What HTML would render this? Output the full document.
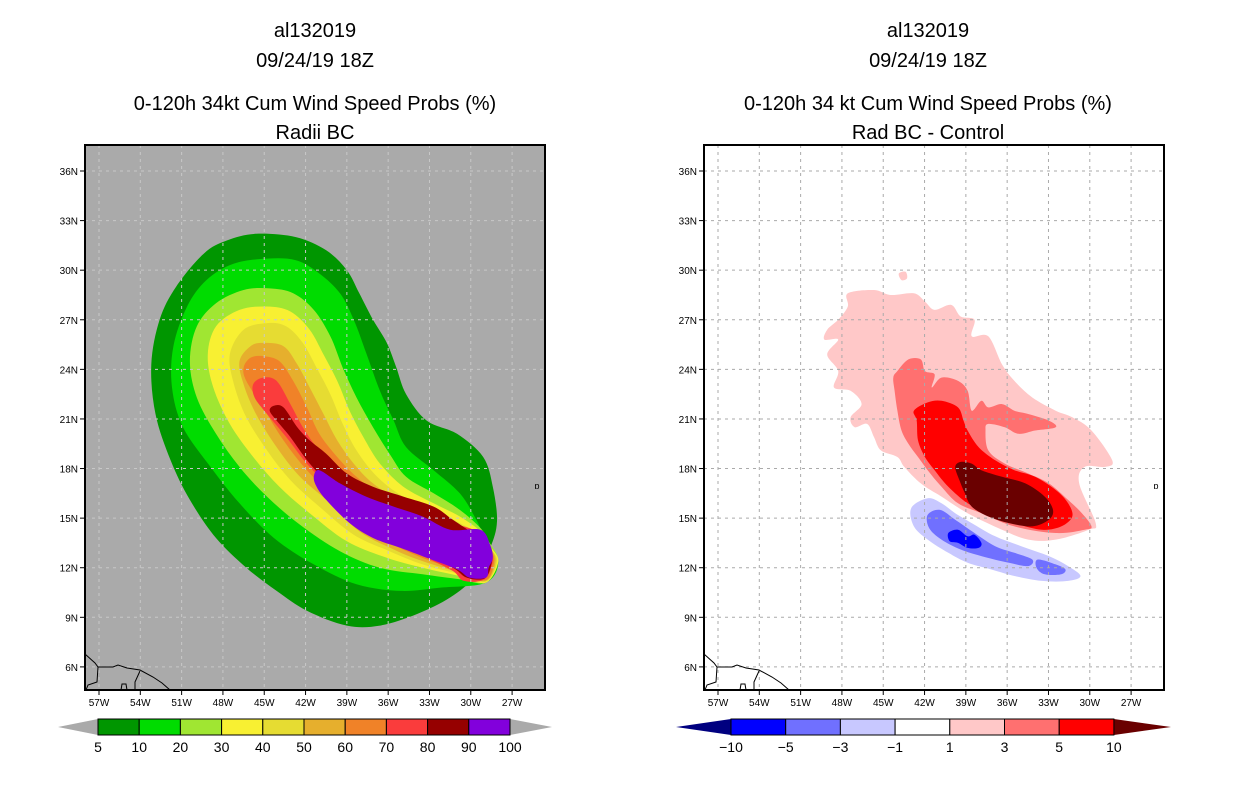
<!DOCTYPE html>
<html><head><meta charset="utf-8"><style>
html,body{margin:0;padding:0;background:#fff;}
svg text{font-family:"Liberation Sans",sans-serif;fill:#000;}
</style></head><body>
<svg id="chart" width="1236" height="800" viewBox="0 0 1236 800" xmlns="http://www.w3.org/2000/svg">
<g font-size="20" text-anchor="middle">
<text x="315" y="37">al132019</text><text x="315" y="67">09/24/19 18Z</text>
<text x="315" y="110">0-120h 34kt Cum Wind Speed Probs (%)</text><text x="315" y="139">Radii BC</text></g>
<g font-size="20" text-anchor="middle">
<text x="928" y="37">al132019</text><text x="928" y="67">09/24/19 18Z</text>
<text x="928" y="110">0-120h 34 kt Cum Wind Speed Probs (%)</text><text x="928" y="139">Rad BC - Control</text></g>
<rect x="85" y="145" width="460" height="545" fill="#aaaaaa"/>
<rect x="704" y="145" width="460" height="545" fill="#ffffff"/>
<g id="lfill"></g><g id="rfill"></g><g id="grids"></g><g id="coast"></g><g id="axes"></g><g id="cbars"></g>
</svg>
<script>
const lonTicks=[-57,-54,-51,-48,-45,-42,-39,-36,-33,-30,-27];
const latTicks=[36,33,30,27,24,21,18,15,12,9,6];
const leftLevels=[5,10,20,30,40,50,60,70,80,90,100];
const leftColors=["#009600","#00dc00","#a0e632","#f8f032","#e6dc32","#e6af2d","#f08228","#fa3c3c","#960000","#8200dc"];
const diffLevels=[-10,-5,-3,-1,1,3,5,10];
const diffColors=["#0000ff","#7070ff","#c8c8ff","#ffffff","#ffc8c8","#ff7070","#ff0000"];
// contours as [lon,lat]
const c5=[[-45.6,32.2],[-42.7,32.0],[-40.5,31.2],[-39.0,30.0],[-38.1,28.6],[-37.1,27.0],[-36.1,25.6],[-35.4,24.1],[-34.7,22.5],[-33.2,20.9],[-31.0,20.1],[-29.1,18.7],[-28.4,16.9],[-28.1,14.8],[-28.6,13.2],[-29.8,11.4],[-31.5,10.2],[-33.9,9.2],[-36.6,8.5],[-39.0,8.5],[-41.9,9.4],[-44.1,10.6],[-46.3,12.0],[-48.5,13.8],[-50.4,16.1],[-51.8,18.5],[-52.9,21.3],[-53.2,24.3],[-52.6,27.0],[-51.4,29.0],[-49.4,31.0],[-47.7,31.8]];
const c10=[[-44.8,30.7],[-42.7,30.6],[-41.0,29.8],[-39.5,28.6],[-38.5,27.0],[-37.6,25.0],[-36.6,22.7],[-35.6,20.9],[-34.7,19.3],[-32.7,17.9],[-30.8,16.5],[-29.6,14.9],[-28.9,13.6],[-28.0,12.4],[-28.9,11.1],[-32.2,10.8],[-35.1,10.6],[-38.3,11.0],[-41.4,12.2],[-44.3,13.8],[-46.8,15.9],[-48.9,18.1],[-50.9,20.5],[-51.7,22.9],[-51.6,25.4],[-50.6,27.8],[-49.2,29.4],[-47.2,30.4]];
const c20=[[-44.6,28.9],[-42.9,28.6],[-41.4,27.6],[-40.2,26.0],[-39.3,24.1],[-38.3,22.3],[-37.1,20.5],[-35.9,18.9],[-34.7,17.5],[-32.7,16.5],[-30.8,15.5],[-29.3,14.4],[-28.7,13.6],[-28.0,12.4],[-28.9,11.1],[-30.8,11.3],[-33.5,11.6],[-36.6,12.0],[-39.5,13.0],[-42.4,14.6],[-44.8,16.3],[-46.8,18.1],[-48.5,20.1],[-49.9,22.3],[-50.4,24.5],[-49.9,26.6],[-48.5,28.0],[-46.5,28.8]];
const c30=[[-44.8,27.8],[-43.1,27.5],[-41.7,26.4],[-40.7,24.9],[-39.7,23.3],[-38.8,21.5],[-37.8,19.9],[-36.6,18.3],[-34.9,16.9],[-32.7,15.9],[-30.8,15.1],[-29.3,14.2],[-28.6,13.3],[-28.0,12.4],[-28.9,11.1],[-30.8,11.5],[-33.5,12.0],[-36.1,12.6],[-39.0,13.6],[-41.7,15.3],[-43.9,16.9],[-45.8,18.7],[-47.5,20.7],[-48.7,22.9],[-49.1,24.9],[-48.5,26.6],[-46.8,27.6]];
const c40=[[-44.8,26.8],[-43.4,26.6],[-42.2,25.6],[-41.2,24.1],[-40.2,22.5],[-39.3,20.7],[-38.3,19.1],[-36.8,17.5],[-34.9,16.3],[-32.7,15.5],[-30.8,14.7],[-29.3,14.0],[-28.6,13.2],[-28.1,12.4],[-28.9,11.15],[-30.8,11.6],[-33.5,12.2],[-35.9,13.0],[-38.5,14.0],[-41.0,15.7],[-43.1,17.3],[-44.8,19.1],[-46.3,21.1],[-47.2,23.1],[-47.5,24.9],[-46.5,26.4]];
const c50=[[-45.1,25.6],[-43.6,25.4],[-42.6,24.3],[-41.7,22.9],[-40.7,21.3],[-39.7,19.7],[-38.5,18.3],[-37.1,17.1],[-34.9,15.9],[-32.7,15.2],[-30.8,14.5],[-29.3,13.9],[-28.6,13.2],[-28.2,12.4],[-28.9,11.2],[-30.8,11.7],[-33.5,12.4],[-35.6,13.1],[-38.1,14.2],[-40.2,15.9],[-42.4,17.5],[-44.1,19.3],[-45.6,21.3],[-46.5,23.1],[-46.8,24.5],[-46.0,25.4]];
const c60=[[-45.1,24.8],[-43.9,24.5],[-42.9,23.3],[-41.9,21.7],[-41.0,20.1],[-39.7,18.7],[-38.3,17.5],[-36.4,16.3],[-34.2,15.4],[-32.2,14.7],[-30.3,14.3],[-29.3,13.8],[-28.6,13.1],[-28.3,12.4],[-28.9,11.25],[-30.8,11.8],[-33.2,12.5],[-35.4,13.3],[-37.6,14.4],[-39.7,16.1],[-41.9,17.9],[-43.6,19.7],[-45.1,21.7],[-46.3,23.3],[-46.5,24.1],[-46.0,24.7]];
const c70=[[-45.1,23.5],[-44.1,23.3],[-43.1,21.9],[-42.2,20.5],[-41.2,19.3],[-40.0,18.3],[-38.5,17.3],[-36.6,16.3],[-34.4,15.5],[-32.2,14.9],[-29.8,14.3],[-29.3,13.9],[-28.7,13.1],[-28.4,12.4],[-29.0,11.3],[-30.5,11.2],[-31.3,11.8],[-33.2,12.6],[-35.4,13.5],[-37.6,14.7],[-39.5,16.3],[-41.7,18.1],[-43.4,19.9],[-44.8,21.3],[-45.7,22.3],[-45.8,23.1]];
const c80=[[-44.3,21.8],[-43.6,21.7],[-42.6,20.5],[-41.7,19.7],[-40.5,18.9],[-39.0,17.7],[-37.1,16.9],[-34.9,16.3],[-32.7,15.7],[-31.3,14.9],[-29.8,14.1],[-28.9,13.9],[-28.5,12.9],[-28.5,12.2],[-29.0,11.35],[-30.3,11.4],[-31.3,12.0],[-33.5,12.8],[-35.6,13.6],[-37.8,14.8],[-39.7,16.5],[-41.7,18.3],[-43.1,19.9],[-44.1,20.9],[-44.6,21.5]];
const c90=[[-41.4,17.5],[-41.0,17.9],[-39.5,17.1],[-37.6,16.3],[-35.6,15.7],[-33.5,15.1],[-31.5,14.3],[-29.3,14.3],[-28.6,13.4],[-28.4,12.6],[-28.7,12.0],[-28.9,11.4],[-30.1,11.4],[-31.0,11.9],[-33.2,12.6],[-35.1,13.2],[-37.1,13.8],[-38.8,14.7],[-40.5,16.1],[-41.2,16.9]];
const leftContours=[c5,c10,c20,c30,c40,c50,c60,c70,c80,c90];
const d1=[[-47.5,28.6],[-45.6,28.8],[-44.4,28.5],[-42.7,28.6],[-41.9,28.1],[-41.2,27.6],[-40.0,27.9],[-39.3,27.2],[-38.3,27.0],[-38.5,26.0],[-37.3,26.0],[-36.3,24.3],[-35.4,23.3],[-34.1,22.3],[-32.4,21.5],[-31.2,21.1],[-29.8,20.3],[-28.3,18.5],[-28.8,18.1],[-30.3,18.1],[-30.7,17.1],[-29.5,14.7],[-30.0,14.3],[-32.4,13.7],[-34.4,13.7],[-36.3,14.3],[-38.8,15.3],[-40.7,16.3],[-42.2,17.1],[-43.4,18.1],[-43.9,18.7],[-45.1,19.1],[-45.6,19.9],[-46.1,20.7],[-47.0,20.5],[-47.3,21.1],[-46.5,21.9],[-47.3,22.7],[-48.5,22.9],[-48.2,23.9],[-49.0,24.9],[-48.2,25.8],[-49.2,25.8],[-49.0,26.4],[-48.2,27.0],[-47.5,27.8]];
const d1b=[[-43.8,29.8],[-43.3,29.9],[-43.2,29.5],[-43.6,29.4]];
const d3=[[-43.1,24.6],[-42.2,24.6],[-41.9,23.9],[-41.2,23.7],[-41.4,22.9],[-40.7,23.5],[-39.5,23.3],[-38.8,22.7],[-38.5,21.5],[-37.8,22.1],[-37.3,21.7],[-36.3,21.9],[-35.4,21.5],[-34.4,21.3],[-32.9,20.9],[-32.4,20.5],[-33.9,20.3],[-35.1,20.1],[-36.1,20.5],[-37.3,20.7],[-37.5,20.3],[-37.3,19.1],[-36.1,18.3],[-34.4,17.7],[-32.9,17.1],[-31.5,16.1],[-30.5,15.3],[-29.8,14.5],[-30.3,14.3],[-32.4,14.1],[-35.4,14.5],[-37.8,15.3],[-39.5,15.9],[-40.7,16.9],[-41.7,17.9],[-42.4,18.7],[-43.1,19.5],[-43.6,20.3],[-43.9,21.5],[-44.1,22.7],[-44.2,23.5],[-43.9,23.9]];
const d5=[[-42.7,21.5],[-41.7,22.0],[-40.7,22.1],[-39.5,21.7],[-39.1,20.9],[-38.8,20.3],[-38.0,19.3],[-36.8,18.5],[-35.4,17.9],[-33.9,17.5],[-32.4,16.7],[-31.5,15.9],[-31.2,15.1],[-32.0,14.5],[-33.4,14.3],[-35.4,14.7],[-37.3,15.3],[-38.8,15.9],[-40.2,16.9],[-41.2,17.9],[-41.9,18.7],[-42.4,19.7],[-42.5,20.9]];
const d10=[[-39.7,18.1],[-39.3,18.4],[-38.5,18.3],[-37.8,17.9],[-36.3,17.5],[-34.6,17.1],[-33.2,16.3],[-32.6,15.5],[-32.9,14.9],[-34.1,14.5],[-35.8,14.7],[-37.3,15.1],[-38.5,15.7],[-39.0,16.5],[-39.4,17.3]];
const dm1=[[-42.9,15.6],[-41.7,16.2],[-40.7,15.9],[-39.7,15.3],[-38.5,14.7],[-36.8,13.9],[-34.9,13.3],[-32.9,12.7],[-31.5,12.1],[-30.6,11.5],[-31.5,11.2],[-33.4,11.2],[-35.4,11.5],[-37.1,11.9],[-38.8,12.3],[-40.2,12.9],[-41.7,13.7],[-42.7,14.5]];
const dm3=[[-41.7,15.2],[-40.8,15.5],[-39.7,14.9],[-38.3,14.1],[-36.8,13.3],[-35.4,12.9],[-34.1,12.5],[-34.4,12.1],[-35.8,12.3],[-37.8,12.7],[-39.3,13.1],[-40.7,13.7],[-41.6,14.4]];
const dm3b=[[-33.7,12.5],[-32.4,12.2],[-31.7,11.9],[-32.0,11.6],[-33.2,11.6],[-33.8,12.0]];
const dm5=[[-40.2,14.1],[-39.5,14.3],[-38.8,13.9],[-38.3,14.0],[-37.8,13.5],[-38.0,13.2],[-38.8,13.2],[-39.5,13.5],[-40.1,13.6]];
const diffContours=[[d1,"#ffc8c8"],[d1b,"#ffc8c8"],[d3,"#ff7070"],[d5,"#ff0000"],[d10,"#6a0000"],[dm1,"#c8c8ff"],[dm3,"#7070ff"],[dm3b,"#7070ff"],[dm5,"#0000ff"]];

const NS="http://www.w3.org/2000/svg";
const PX=13.77, PY=16.53;
function xL(lon){return 99+(lon+57)*PX;}
function yL(lat){return 171+(36-lat)*PY;}
function xR(lon){return xL(lon)+618;}
function mk(tag,attrs,parent){const e=document.createElementNS(NS,tag);for(const k in attrs)e.setAttribute(k,attrs[k]);parent.appendChild(e);return e;}
function smooth(pts){const n=pts.length;let d="M"+pts[0][0].toFixed(1)+","+pts[0][1].toFixed(1);
 for(let i=0;i<n;i++){const p0=pts[(i-1+n)%n],p1=pts[i],p2=pts[(i+1)%n],p3=pts[(i+2)%n];
  const c1=[p1[0]+(p2[0]-p0[0])/6,p1[1]+(p2[1]-p0[1])/6],c2=[p2[0]-(p3[0]-p1[0])/6,p2[1]-(p3[1]-p1[1])/6];
  d+="C"+c1[0].toFixed(1)+","+c1[1].toFixed(1)+" "+c2[0].toFixed(1)+","+c2[1].toFixed(1)+" "+p2[0].toFixed(1)+","+p2[1].toFixed(1);}
 return d+"Z";}
const lf=document.getElementById('lfill');
leftContours.forEach((c,i)=>{
 const p=mk('path',{d:smooth(c.map(q=>[xL(q[0]),yL(q[1])])),fill:leftColors[i]},lf);
 
 
});
const rf=document.getElementById('rfill');
diffContours.forEach((c,i)=>{
 const p=mk('path',{d:smooth(c[0].map(q=>[xR(q[0]),yL(q[1])])),fill:c[1]},rf);
 
 
});
// grids, axes
const gr=document.getElementById('grids'), ax=document.getElementById('axes');
[[0,'#c8c8c8','left'],[619,'#aaaaaa','right']].forEach(([off,col,nm])=>{
 lonTicks.forEach(l=>{const x=xL(l)+off;
  const g=mk('line',{x1:x,y1:145,x2:x,y2:690,stroke:col,'stroke-width':1,'stroke-dasharray':'3,4'},gr);
  
  
  mk('line',{x1:x,y1:690,x2:x,y2:695,stroke:'#000'},ax);
  const t=mk('text',{x:x,y:706,'font-size':10,'text-anchor':'middle'},ax);t.textContent=(-l)+'W';
  
  
 });
 latTicks.forEach(l=>{const y=yL(l);
  const g=mk('line',{x1:85+off,y1:y,x2:545+off,y2:y,stroke:col,'stroke-width':1,'stroke-dasharray':'3,4'},gr);
  
  
  mk('line',{x1:80+off,y1:y,x2:85+off,y2:y,stroke:'#000'},ax);
  const t=mk('text',{x:78+off,y:y+4,'font-size':10,'text-anchor':'end'},ax);t.textContent=l+'N';
  
  
 });
 const f=mk('rect',{x:85+off,y:145,width:460,height:545,fill:'none',stroke:'#000','stroke-width':2},ax);
 
 
 const cst=document.getElementById('coast');
 const cp=mk('path',{d:`M${85+off},654 L${95+off},663 L${98+off},667 L${113+off},667 L${118+off},665 L${127+off},668 L${140+off},670 L${153+off},677 L${162+off},683 L${170+off},690 M${98+off},667 L${97+off},682 L${88+off},685 L${86+off},690 M${140+off},671 L${135+off},682 L${135+off},690 M${121+off},690 L${122+off},684 L${126+off},684 L${127+off},690`,fill:'none',stroke:'#000','stroke-width':1},cst);
 
 
 const isl=mk('text',{x:537+off,y:489,'font-size':9,'text-anchor':'middle'},cst);isl.textContent='ɒ';
 
 
});
// colorbars
const cb=document.getElementById('cbars');
(function(){const x0=98,w=41.2,y0=719,h=16;
 const tl=mk('polygon',{points:`58,727 ${x0},${y0} ${x0},${y0+h}`,fill:'#aaaaaa'},cb);
 
 
 const tr=mk('polygon',{points:`${x0+10*w},${y0} ${x0+10*w},${y0+h} 552,727`,fill:'#aaaaaa'},cb);
 
 
 leftColors.forEach((c,i)=>{const r=mk('rect',{x:x0+i*w,y:y0,width:w,height:h,fill:c,stroke:'#000','stroke-width':1},cb);
  
  });
 leftLevels.forEach((v,i)=>{const t=mk('text',{x:x0+i*w,y:752,'font-size':14,'text-anchor':'middle'},cb);t.textContent=v;
  
  });
})();
(function(){const x0=731,w=54.7,y0=719,h=16;
 const tl=mk('polygon',{points:`676,727 ${x0},${y0} ${x0},${y0+h}`,fill:'#000080'},cb);
 
 
 const tr=mk('polygon',{points:`${x0+7*w},${y0} ${x0+7*w},${y0+h} 1171,727`,fill:'#6a0000'},cb);
 
 
 diffColors.forEach((c,i)=>{const r=mk('rect',{x:x0+i*w,y:y0,width:w,height:h,fill:c,stroke:'#000','stroke-width':1},cb);
  
  });
 diffLevels.forEach((v,i)=>{const t=mk('text',{x:x0+i*w,y:752,'font-size':14,'text-anchor':'middle'},cb);t.textContent=v<0?'\u2212'+(-v):v;
  
  });
})();
</script>
</body></html>
